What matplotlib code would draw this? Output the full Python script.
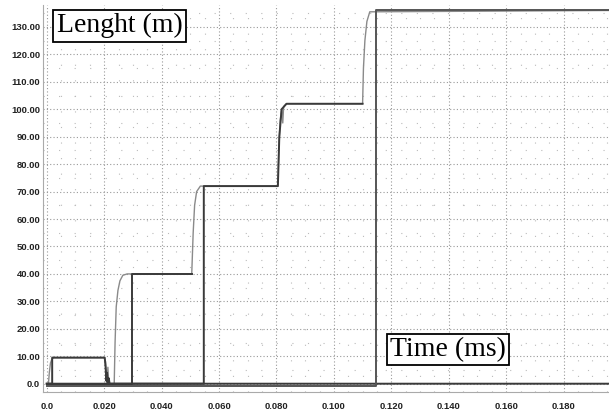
import matplotlib
matplotlib.use("Agg")
import matplotlib.pyplot as plt
from matplotlib.ticker import MultipleLocator, FuncFormatter

# gray staircase (measured length)
t_gray = [0, 0.0006, 0.0009, 0.0013, 0.0018, 0.0025, 0.0200, 0.0205, 0.0208, 0.0210, 0.0213, 0.0216,
          0.0235, 0.0238, 0.0242, 0.0248, 0.0255, 0.0265, 0.0280, 0.0505, 0.0510, 0.0515, 0.0522, 0.0535,
          0.0805, 0.0808, 0.0813, 0.0818, 0.0822, 0.0825, 0.0835, 0.1100, 0.1103, 0.1108, 0.1115, 0.1125, 0.197]
v_gray = [0, 0, 4, 7.5, 9, 9.5, 9.5, 8, 3, 0, 6, 0,
          0, 15, 28, 34, 37.5, 39.5, 40, 40, 55, 65, 70, 72,
          72, 85, 96, 100, 95, 101, 102, 102, 115, 125, 132, 135.5, 136]

# dark step signals
t_s1 = [0, 0.0019, 0.0019, 0.0202, 0.0205, 0.0208, 0.0210, 0.0213, 0.0216, 0.0219, 0.197]
v_s1 = [0, 0, 9.5, 9.5, 6, 1, 4, 0, 2, 0, 0]
t_s2 = [0, 0.0298, 0.0298, 0.0505]
v_s2 = [0, 0, 40, 40]
t_s3 = [0, 0.0547, 0.0547, 0.0805, 0.0810, 0.0818, 0.0835, 0.1100]
v_s3 = [0, 0, 72, 72, 90, 100, 102, 102]
t_s4 = [0, 0.1147, 0.1147, 0.197]
v_s4 = [-0.7, -0.7, 136, 136]

fig = plt.figure(figsize=(6.09, 4.13), dpi=100)
ax = fig.add_axes([0.0706, 0.051, 0.935, 0.937])

ax.plot(t_gray, v_gray, color='#8a8a8a', lw=1.0, zorder=3)
ax.plot(t_s1, v_s1, color='#3a3a3a', lw=1.4, zorder=4)
ax.plot(t_s2, v_s2, color='#3a3a3a', lw=1.4, zorder=4)
ax.plot(t_s3, v_s3, color='#3a3a3a', lw=1.4, zorder=4)
ax.plot(t_s4, v_s4, color='#555555', lw=1.4, zorder=4)

ax.set_xlim(-0.0013, 0.197)
ax.set_ylim(-3, 138)
ax.xaxis.set_major_locator(MultipleLocator(0.02))
ax.yaxis.set_major_locator(MultipleLocator(10))
ax.xaxis.set_minor_locator(MultipleLocator(0.005))
ax.yaxis.set_minor_locator(MultipleLocator(5))

ax.xaxis.set_major_formatter(FuncFormatter(lambda v, p: "0.0" if abs(v) < 1e-9 else f"{v:.3f}"))
ax.yaxis.set_major_formatter(FuncFormatter(lambda v, p: "0.0" if abs(v) < 1e-9 else f"{v:.2f}"))

ax.grid(which='major', color='#999999', linestyle=(0, (1, 2)), lw=0.8)
ax.grid(which='minor', color='#bbbbbb', linestyle=(0, (1, 13)), lw=0.8)
ax.tick_params(which='both', length=0, pad=2)
ax.tick_params(axis='x', pad=7)
for lab in ax.get_xticklabels() + ax.get_yticklabels():
    lab.set_fontsize(6.8)
    lab.set_fontweight('bold')
    lab.set_family('Liberation Sans')
    lab.set_color('#222222')

for s in ['top', 'right']:
    ax.spines[s].set_visible(False)
ax.spines['left'].set_color('#aaaaaa')
ax.spines['bottom'].set_color('#aaaaaa')

ax.text(0.0035, 135.0, "Lenght (m)", family='Liberation Serif', fontsize=20, va='top', ha='left',
        bbox=dict(boxstyle='square,pad=0.12', fc='white', ec='black', lw=1.3), zorder=6)
ax.text(0.1195, 17.0, "Time (ms)", family='Liberation Serif', fontsize=20, va='top', ha='left',
        bbox=dict(boxstyle='square,pad=0.12', fc='white', ec='black', lw=1.3), zorder=6)

fig.savefig("out.png", dpi=100)
